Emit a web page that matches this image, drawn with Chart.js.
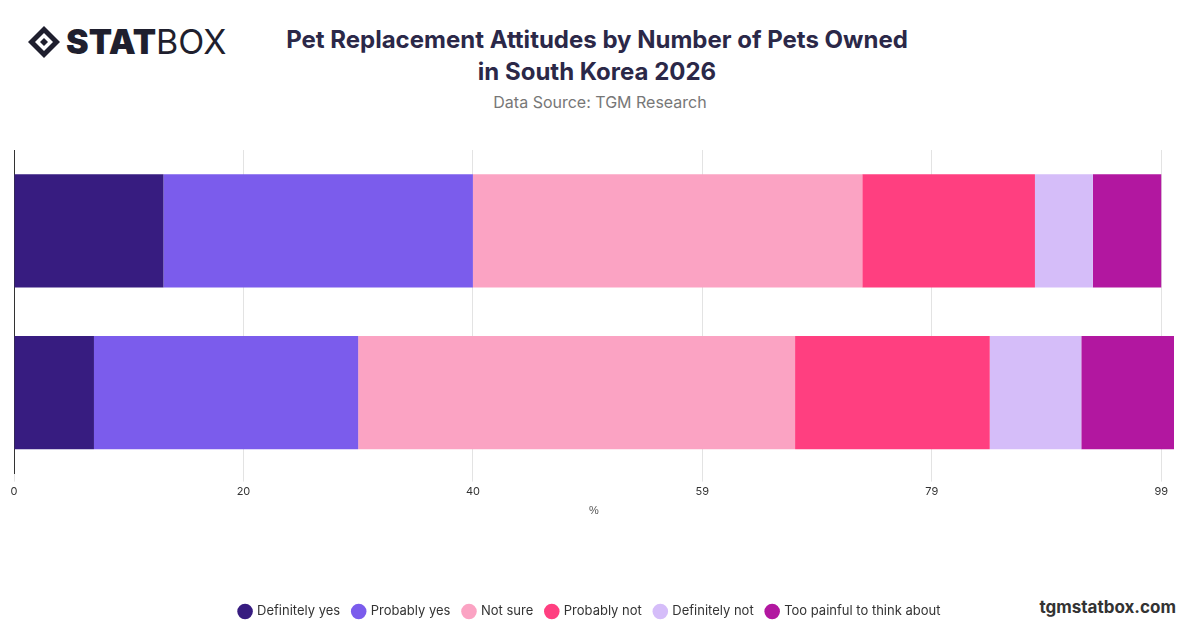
<!DOCTYPE html>
<html><head><meta charset="utf-8">
<script src="https://cdn.jsdelivr.net/npm/chart.js@4"></script>
<style>
body{margin:0;width:1200px;height:628px;background:#fff;font-family:Inter,"Noto Sans",sans-serif;position:relative;overflow:hidden}
#logo{position:absolute;left:26px;top:21px;font-size:34px;color:#1f1f2e;display:flex;align-items:center}
#logo b{font-weight:900}
#title{position:absolute;left:0;width:1194px;top:24px;text-align:center;font-weight:700;font-size:24px;line-height:32px;color:#2b2848}
#sub{position:absolute;left:0;width:1200px;top:92px;text-align:center;font-size:16px;color:#777}
#foot{position:absolute;right:24px;top:597px;font-weight:700;font-size:17px;color:#333}
#wrap{position:absolute;left:0;top:140px;width:1200px;height:488px}
</style></head><body>
<div id="logo"><svg width="36" height="36" viewBox="0 0 36 36"><path d="M18 2L34 18L18 34L2 18Z" fill="#1f1f2e"/><path d="M18 9L27 18L18 27L9 18Z" fill="#fff"/><path d="M18 14L22 18L18 22L14 18Z" fill="#1f1f2e"/></svg><span style="margin-left:4px"><b>STAT</b>BOX</span></div>
<div id="title">Pet Replacement Attitudes by Number of Pets Owned<br>in South Korea 2026</div>
<div id="sub">Data Source: TGM Research</div>
<div id="foot">tgmstatbox.com</div>
<div id="wrap"><canvas id="c"></canvas></div>
<script>
const categories=['1 pet','2+ pets'];
const seriesNames=['Definitely yes','Probably yes','Not sure','Probably not','Definitely not','Too painful to think about'];
const definitelyYes=[12.9,6.9];
const probablyYes=[26.7,22.8];
const notSure=[33.6,37.7];
const probablyNot=[14.9,16.8];
const definitelyNot=[5.0,7.9];
const tooPainful=[5.9,8.0];
const tickValues=[0,19.8,39.6,59.4,79.2,99];
const colors=['#371c80','#7b5cec','#fba3c3','#ff3f80','#d5bdf9','#b217a0'];
const all=[definitelyYes,probablyYes,notSure,probablyNot,definitelyNot,tooPainful];
new Chart(document.getElementById('c'),{
type:'bar',
data:{labels:categories,datasets:all.map((d,i)=>({label:seriesNames[i],data:d,backgroundColor:colors[i],barPercentage:0.7,categoryPercentage:1}))},
options:{indexAxis:'y',responsive:true,maintainAspectRatio:false,animation:false,
layout:{padding:{top:10,left:6,right:26,bottom:0}},
plugins:{legend:{position:'bottom',labels:{usePointStyle:true,pointStyle:'circle',boxWidth:11,boxHeight:11,padding:13,color:'#333',font:{size:13,family:'Inter'}}},tooltip:{enabled:false}},
scales:{
x:{stacked:true,min:0,max:100.1,
afterBuildTicks(s){s.ticks=tickValues.map(v=>({value:v}));},
ticks:{callback:v=>Math.round(v),color:'#333',font:{size:11,family:'Inter'},autoSkip:false},
grid:{color:'#e3e3e3',drawTicks:true,tickLength:8},border:{display:false},
title:{display:true,text:'%',color:'#555',font:{size:11},padding:{top:4,bottom:74}}},
y:{stacked:true,ticks:{display:false},grid:{display:false},border:{display:true,color:'#333'}}
}}});
</script></body></html>
